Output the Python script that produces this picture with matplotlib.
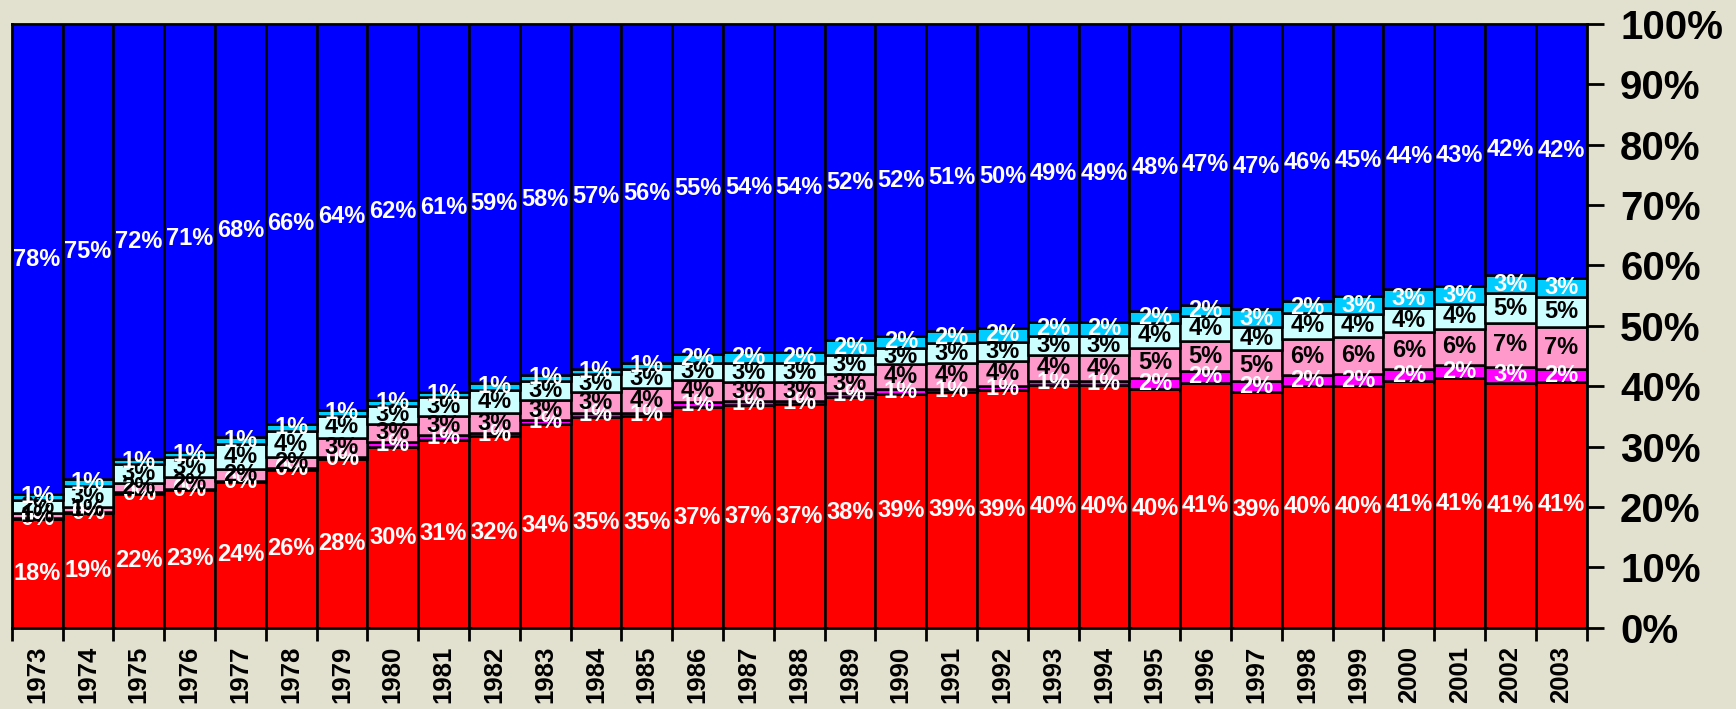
import matplotlib
matplotlib.use("Agg")
import matplotlib.pyplot as plt
import numpy as np

years = [str(y) for y in range(1973, 2004)]

red = [18.0, 19.0, 22.1, 22.8, 24.1, 26.2, 27.9, 30.0, 31.1, 31.7, 33.8, 34.9, 35.0, 36.6, 36.9, 37.0,
       38.2, 38.7, 39.0, 39.3, 40.2, 40.2, 39.6, 40.6, 39.0, 40.0, 40.0, 40.8, 41.3, 40.6, 40.7]
magenta = [0.2, 0.2, 0.3, 0.1, 0.2, 0.2, 0.3, 0.8, 0.8, 0.6, 0.6, 0.7, 0.6, 0.8, 0.6, 0.6,
           0.7, 0.8, 0.6, 0.7, 0.7, 0.6, 1.8, 1.9, 1.8, 1.8, 2.0, 2.1, 2.2, 2.6, 2.2]
pink = [0.8, 0.8, 1.6, 2.1, 2.0, 1.9, 3.2, 3.0, 3.1, 3.2, 3.3, 3.4, 4.1, 3.7, 3.2, 3.1,
        3.2, 4.1, 4.2, 4.2, 4.3, 4.3, 5.0, 5.0, 5.2, 6.1, 6.2, 6.1, 6.0, 7.3, 6.9]
lightcyan = [2.2, 3.4, 3.1, 3.2, 4.1, 4.2, 3.7, 3.0, 3.2, 3.9, 3.2, 3.0, 3.2, 2.7, 3.1, 3.1,
             3.1, 2.8, 3.3, 3.2, 3.2, 3.3, 4.1, 4.2, 3.8, 4.2, 3.8, 3.9, 4.1, 4.9, 5.0]
skyblue = [0.9, 1.2, 0.9, 0.9, 1.2, 1.3, 1.0, 1.0, 0.9, 1.2, 1.0, 0.9, 1.0, 1.6, 1.9, 1.9,
           2.4, 1.9, 2.1, 2.2, 2.2, 2.2, 1.9, 1.7, 3.0, 2.0, 2.9, 3.2, 3.0, 3.0, 3.2]
blue = [77.9, 75.4, 72.0, 70.9, 68.4, 66.2, 63.9, 62.2, 60.9, 59.4, 58.1, 57.1, 56.1, 54.6, 54.3, 54.3,
        52.4, 51.7, 50.8, 50.4, 49.4, 49.4, 47.6, 46.6, 47.2, 45.9, 45.1, 43.9, 43.4, 41.6, 42.0]

series = [red, magenta, pink, lightcyan, skyblue, blue]
colors = ["#FF0000", "#FF00FF", "#FF99CC", "#CCFFFF", "#00CCFF", "#0000FF"]
label_colors = ["white", "white", "black", "black", "white", "white"]
ytick_vals = [0, 10, 20, 30, 40, 50, 60, 70, 80, 90, 100]

plt.rcParams['font.family'] = ['Liberation Sans', 'DejaVu Sans']
bg = "#E2E0CF"
fig = plt.figure(figsize=(17.36, 7.09), dpi=100, facecolor=bg)
ax = fig.add_axes([11.7 / 1736, 1 - 627.7 / 709, 1575 / 1736, (627.7 - 24) / 709])
ax.set_facecolor(bg)

x = np.arange(len(years))
bottom = np.zeros(len(years))
for vals, c, lc in zip(series, colors, label_colors):
    v = np.array(vals)
    cont = ax.bar(x, v, width=1.0, bottom=bottom, color=c, edgecolor="black", linewidth=1.8)
    ax.bar_label(cont, labels=[f"{t:.0f}%" for t in v], label_type="center",
                 color=lc, fontsize=17, fontweight="bold")
    bottom += v

ax.set_xlim(-0.5, len(years) - 0.5)
ax.set_ylim(0, 100)

ax.yaxis.tick_right()
ax.set_yticks(ytick_vals)
ax.set_yticklabels([f"{v}%" for v in ytick_vals], fontsize=29, fontweight="bold")
ax.tick_params(axis="y", direction="out", length=12, width=2, pad=12)

ax.set_xticks(x)
ax.set_xticklabels(years, rotation=90, fontsize=18.5, fontweight="bold")
ax.set_xticks(np.arange(-0.5, len(years), 1.0), minor=True)
ax.tick_params(axis="x", which="major", length=0, pad=13)
ax.tick_params(axis="x", which="minor", length=9, width=2, direction="out")

for s in ax.spines.values():
    s.set_linewidth(2)
    s.set_color("black")

fig.savefig("out.png", dpi=100, facecolor=bg)
